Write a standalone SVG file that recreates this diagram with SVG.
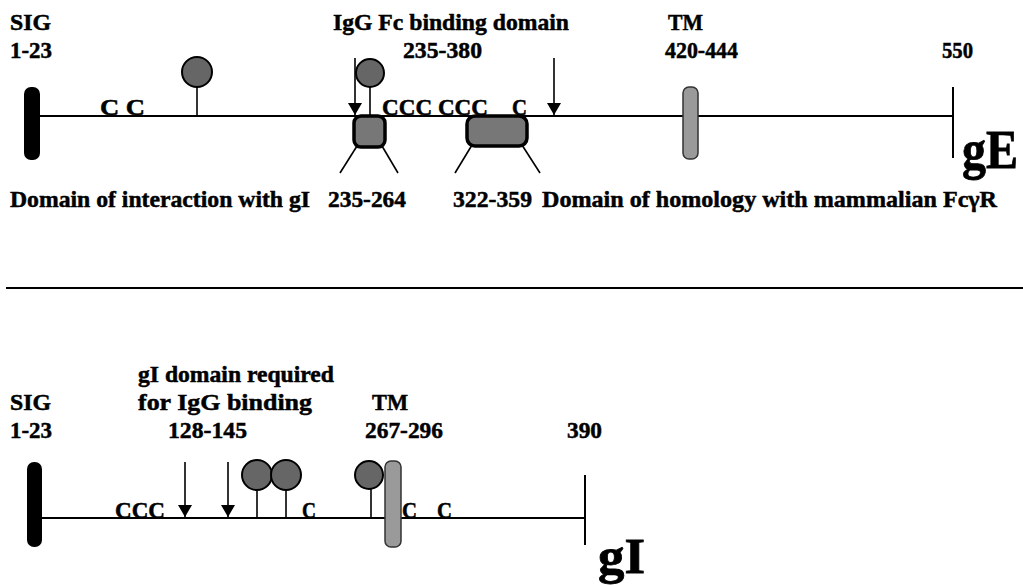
<svg xmlns="http://www.w3.org/2000/svg" width="1023" height="585" viewBox="0 0 1023 585">
<defs>
<style>
text{font-family:"Liberation Serif","Times New Roman",serif;font-weight:bold;font-size:24px;fill:#000;stroke:#000;stroke-width:0.5}
.big{font-size:54px;stroke-width:0.8}
.line{stroke:#000;stroke-width:2;fill:none}
.thin{stroke:#000;stroke-width:1.6;fill:none}
.sig{fill:#000}
.tm{fill:#9a9a9a;stroke:#333;stroke-width:1.5}
.ball{fill:#666;stroke:#000;stroke-width:2}
.box{fill:#777;stroke:#000;stroke-width:3.5}
</style>
<marker id="ah" viewBox="0 0 12 14" refX="12" refY="7" markerWidth="12" markerHeight="14" markerUnits="userSpaceOnUse" orient="auto">
<path d="M0,0 L12,7 L0,14 Z" fill="#000"/>
</marker>
</defs>
<rect width="1023" height="585" fill="#fff"/>

<g id="connectors">
<line class="line" x1="40" y1="116" x2="953" y2="116"/>
<line class="line" x1="953" y1="87" x2="953" y2="158"/>
<line class="thin" x1="197" y1="86" x2="197" y2="116"/>
<line class="thin" x1="370" y1="87" x2="370" y2="116"/>
<path class="thin" d="M355,58 V115" marker-end="url(#ah)"/>
<path class="thin" d="M554,58 V115" marker-end="url(#ah)"/>
<line class="thin" x1="357" y1="146" x2="340" y2="173"/>
<line class="thin" x1="382" y1="146" x2="398" y2="173"/>
<line class="thin" x1="472" y1="145" x2="455" y2="173"/>
<line class="thin" x1="522" y1="145" x2="540" y2="173"/>
<line class="line" x1="6" y1="288" x2="1023" y2="288"/>
<line class="line" x1="42" y1="518" x2="585" y2="518"/>
<line class="line" x1="585" y1="475" x2="585" y2="545"/>
<path class="thin" d="M185,462 V517" marker-end="url(#ah)"/>
<path class="thin" d="M228,462 V517" marker-end="url(#ah)"/>
<line class="thin" x1="257" y1="490" x2="257" y2="518"/>
<line class="thin" x1="286" y1="490" x2="286" y2="518"/>
<line class="thin" x1="371" y1="489" x2="371" y2="518"/>
</g>

<g id="gE">
<g id="gE-sig"><rect class="sig" x="24" y="87" width="16" height="73" rx="7"/>
<text x="10" y="30" textLength="41" lengthAdjust="spacingAndGlyphs">SIG</text>
<text x="10" y="58" textLength="42" lengthAdjust="spacingAndGlyphs">1-23</text></g>
<g id="gE-glyc1"><circle class="ball" cx="197" cy="72" r="15"/></g>
<g id="gE-glyc2"><circle class="ball" cx="370" cy="73" r="14"/></g>
<text x="100" y="115" textLength="45" lengthAdjust="spacingAndGlyphs">C C</text>
<g id="gE-fc"><text x="333" y="30" textLength="236" lengthAdjust="spacingAndGlyphs">IgG Fc binding domain</text>
<text x="403" y="58" textLength="79" lengthAdjust="spacingAndGlyphs">235-380</text></g>
<g id="gE-box1"><rect class="box" x="354" y="116" width="31" height="31" rx="7"/></g>
<g id="gE-box2"><rect class="box" x="467" y="116" width="60" height="30" rx="8"/></g>
<text x="382" y="115" textLength="106" lengthAdjust="spacingAndGlyphs">CCC CCC</text>
<text x="512" y="115" textLength="15" lengthAdjust="spacingAndGlyphs">C</text>
<g id="gE-tm"><rect class="tm" x="683" y="87" width="15" height="72" rx="6"/>
<text x="668" y="30" textLength="35" lengthAdjust="spacingAndGlyphs">TM</text>
<text x="665" y="58" textLength="73" lengthAdjust="spacingAndGlyphs">420-444</text></g>
<text x="942" y="58" textLength="31" lengthAdjust="spacingAndGlyphs">550</text>
<text class="big" x="962" y="168" textLength="56" lengthAdjust="spacingAndGlyphs">gE</text>
<text x="10" y="207" textLength="300" lengthAdjust="spacingAndGlyphs">Domain of interaction with gI</text>
<text x="328" y="207" textLength="78" lengthAdjust="spacingAndGlyphs">235-264</text>
<text x="453" y="207" textLength="79" lengthAdjust="spacingAndGlyphs">322-359</text>
<text x="542" y="207" textLength="455" lengthAdjust="spacingAndGlyphs">Domain of homology with mammalian FcγR</text>
</g>

<g id="gI">
<g id="gI-sig"><rect class="sig" x="27" y="462" width="15" height="85" rx="7"/>
<text x="10" y="410" textLength="41" lengthAdjust="spacingAndGlyphs">SIG</text>
<text x="10" y="438" textLength="42" lengthAdjust="spacingAndGlyphs">1-23</text></g>
<g id="gI-domain"><text x="138" y="382" textLength="196" lengthAdjust="spacingAndGlyphs">gI domain required</text>
<text x="138" y="410" textLength="174" lengthAdjust="spacingAndGlyphs">for IgG binding</text>
<text x="168" y="438" textLength="79" lengthAdjust="spacingAndGlyphs">128-145</text></g>
<text x="115" y="518" textLength="50" lengthAdjust="spacingAndGlyphs">CCC</text>
<g id="gI-glyc1"><circle class="ball" cx="257" cy="475" r="15"/></g>
<g id="gI-glyc2"><circle class="ball" cx="286" cy="475" r="15"/></g>
<g id="gI-glyc3"><circle class="ball" cx="369" cy="475" r="14"/></g>
<text x="302" y="518" textLength="14" lengthAdjust="spacingAndGlyphs">C</text>
<g id="gI-tm"><rect class="tm" x="385" y="461" width="16" height="86" rx="6"/>
<text x="372" y="410" textLength="36" lengthAdjust="spacingAndGlyphs">TM</text>
<text x="365" y="438" textLength="78" lengthAdjust="spacingAndGlyphs">267-296</text></g>
<text x="402" y="518" textLength="15" lengthAdjust="spacingAndGlyphs">C</text>
<text x="437" y="518" textLength="15" lengthAdjust="spacingAndGlyphs">C</text>
<text x="567" y="438" textLength="35" lengthAdjust="spacingAndGlyphs">390</text>
<text class="big" x="598" y="573" style="font-size:50px" textLength="47" lengthAdjust="spacingAndGlyphs">gI</text>
</g>
</svg>
